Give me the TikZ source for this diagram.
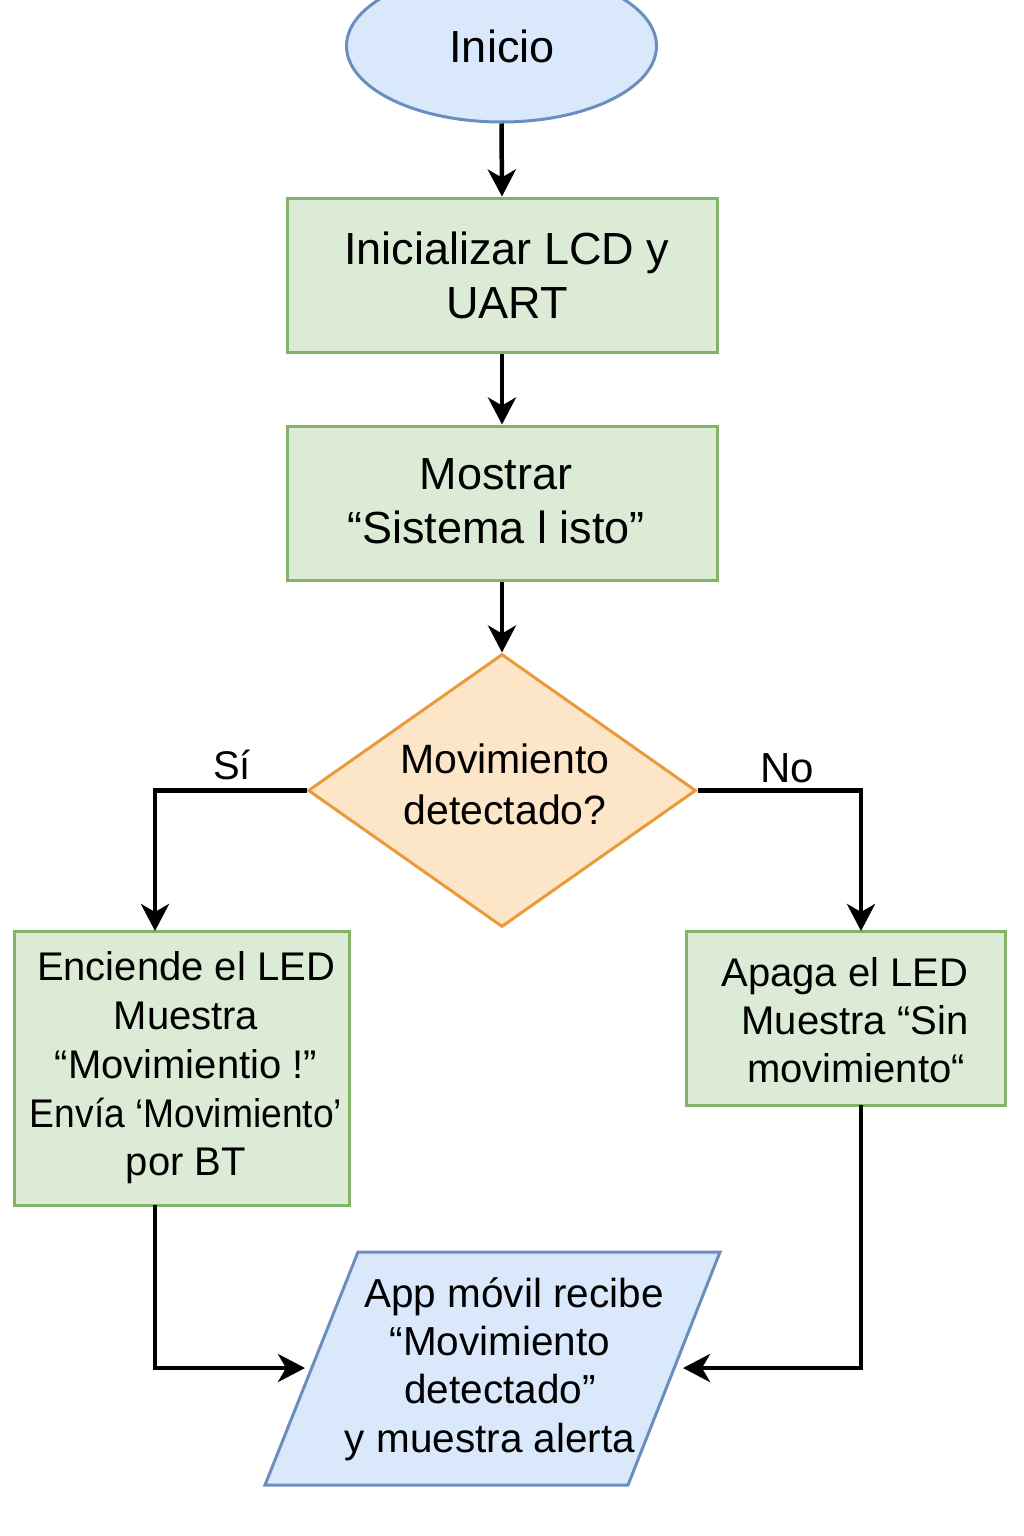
\documentclass[tikz,border=0pt]{standalone}
\usepackage{fontspec}
\setmainfont{Liberation Sans}
\usetikzlibrary{shapes.geometric,arrows.meta}
\definecolor{gfill}{HTML}{DCEBD6}
\definecolor{gline}{HTML}{82B366}
\definecolor{bfill}{HTML}{DAE8FC}
\definecolor{bline}{HTML}{6C8EBF}
\definecolor{ofill}{HTML}{FDE5C8}
\definecolor{oline}{HTML}{E99B3A}
\begin{document}
\begin{tikzpicture}[x=1pt,y=-1pt,
 procbox/.style={draw=gline,fill=gfill,line width=3pt,rectangle,inner sep=0pt},
 bigtxt/.style={align=center,inner sep=0pt,font=\fontsize{45}{54}\selectfont},
 midtxt/.style={align=center,inner sep=0pt,font=\fontsize{40}{49}\selectfont},
 conn/.style={line width=4.5pt,-{Stealth[length=27pt,width=28pt,inset=8pt]}}]
\useasboundingbox (0,0) rectangle (1024,1536);
\fill[white] (0,0) rectangle (1024,1536);
% start
\node[ellipse,draw=bline,fill=bfill,line width=3pt,minimum width=310pt,minimum height=152pt,inner sep=0pt] (start) at (501.5,46) {};
\node[bigtxt] (starttxt) at (502,46) {Inicio};
% box 1
\node[procbox,minimum width=430pt,minimum height=154pt] (b1) at (502,275) {};
\node[bigtxt] (b1txt) at (507,275) {Inicializar LCD y\\UART};
% box 2
\node[procbox,minimum width=430pt,minimum height=154pt] (b2) at (502,503) {};
\node[bigtxt] (b2txt) at (496,501) {Mostrar\\“Sistema l isto”};
% decision
\node[diamond,draw=oline,fill=ofill,line width=3pt,minimum width=388pt,minimum height=273pt,inner sep=0pt] (dec) at (502,790.5) {};
\node[midtxt,font=\fontsize{41}{51}\selectfont] (dectxt) at (505,784) {Movimiento\\detectado?};
% left box
\node[procbox,minimum width=335pt,minimum height=274pt] (b3) at (181.5,1068) {};
\node[midtxt,font=\fontsize{40}{48.7}\selectfont] (b3txt) at (186,1068) {Enciende el LED\\Muestra\\“Movimientio !”\\\scalebox{0.93}[1]{Envía ‘Movimiento’}\\por BT};
% right box
\node[procbox,minimum width=319pt,minimum height=174pt] (b4) at (845.5,1018) {};
\node[midtxt,font=\fontsize{40}{48}\selectfont] (b4txt) at (852,1020) {Apaga el LED\hspace*{14pt}\\\hspace*{6pt}Muestra “Sin\\\hspace*{8pt}movimiento“};
% parallelogram
\draw[draw=bline,fill=bfill,line width=3pt] (358,1252) -- (720,1252) -- (628,1485) -- (265,1485) -- cycle;
\node[midtxt,font=\fontsize{40.5}{48.3}\selectfont] (app) at (500,1369) {\hspace*{28pt}App móvil recibe\\“Movimiento\\detectado”\hspace*{10pt}\\y muestra alerta\hspace*{20pt}};
% labels
\node[midtxt] (si) at (232,765) {Sí};
\node[midtxt,font=\fontsize{42}{49}\selectfont] (no) at (787,768) {No};
% coordinates
\coordinate (b3in) at (155,931);
\coordinate (b4in) at (861,931);
\coordinate (b3out) at (155,1205);
\coordinate (b4out) at (861,1105);
\coordinate (appl) at (305,1368);
\coordinate (appr) at (683,1368);
% connectors
\draw[conn] (start.south) -- (b1.north);
\draw[conn] (b1.south) -- (b2.north);
\draw[conn] (b2.south) -- (dec.north);
\draw[conn] (dec.west) -| (b3in);
\draw[conn] (dec.east) -| (b4in);
\draw[conn] (b3out) |- (appl);
\draw[conn] (b4out) |- (appr);
\end{tikzpicture}
\end{document}
